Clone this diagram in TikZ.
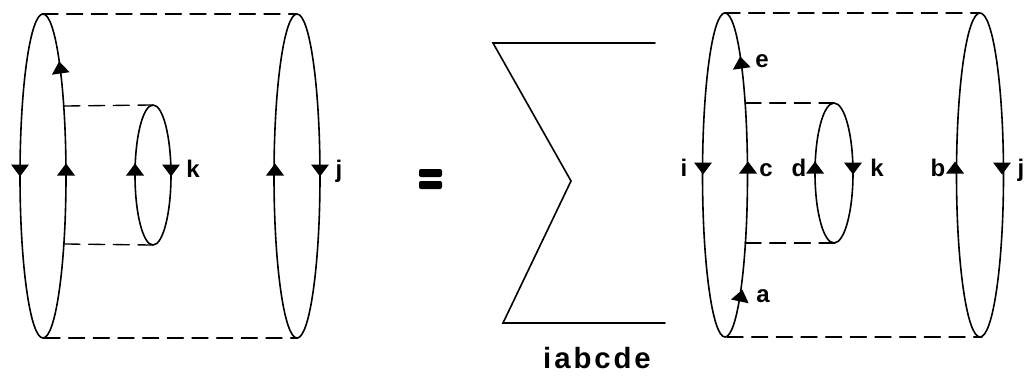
\documentclass[tikz,border=0pt]{standalone}
\usepackage{fontspec}
\setmainfont{Liberation Sans}

\tikzset{
  loopline/.style={line width=1.2pt},
  cylline/.style={line width=1pt,dash pattern=on 12pt off 6.5pt},
  lbl/.style={font=\fontsize{18}{18}\selectfont\bfseries,inner sep=0pt,anchor=base},
  uptri/.pic={\fill (-9,5.5) -- (9,5.5) -- (0,-6.5) -- cycle;},
  downtri/.pic={\fill (-9,-5.5) -- (9,-5.5) -- (0,6.5) -- cycle;}
}

\begin{document}
\begin{tikzpicture}[x=0.75pt,y=-0.75pt,line cap=round,line join=round]
        \useasboundingbox (0,0) rectangle (1035,378);

        % Cilindro de la izquierda
        \draw[loopline] (43,176) ellipse [x radius=23,y radius=162];
        \draw[loopline] (297,176) ellipse [x radius=23,y radius=162];
        \draw[loopline] (153,175) ellipse [x radius=18,y radius=70];

        \coordinate (Atop) at (42,14);
        \coordinate (Abot) at (44,338);
        \coordinate (Btop) at (296,14);
        \coordinate (Bbot) at (298,338);
        \coordinate (Ain1) at (64,106);
        \coordinate (Ain2) at (64,244);
        \coordinate (Ctop) at (153,105);
        \coordinate (Cbot) at (153,245);

        \draw[cylline] (Atop) -- (Btop);
        \draw[cylline] (Abot) -- (Bbot);
        \draw[cylline] (Ain1) -- (Ctop);
        \draw[cylline] (Ain2) -- (Cbot);

        % Flechas y etiquetas
        \pic at (20,170) {downtri};
        \pic[rotate=8] at (60,68) {uptri};
        \pic at (66,170) {uptri};
        \pic at (135,170) {uptri};
        \pic at (171,170) {downtri};
        \pic at (275,170) {uptri};
        \pic at (320,170) {downtri};

        \node[lbl] (kA) at (193,177) {k};
        \node[lbl] (jA) at (339,177) {j};

        %----------------------------------------------------------
        % Igualdad y sumatoria
        \fill[rounded corners=1.5pt] (419,169) rectangle (442,177);
        \fill[rounded corners=1.5pt] (419,181) rectangle (442,189);

        \draw[line width=1.2pt,line join=miter]
            (655,43) -- (493,43) -- (571,181) -- (503,323) -- (665,323);
        \node[lbl,font=\fontsize{22}{22}\selectfont\bfseries\addfontfeature{LetterSpace=10}]
            (sumidx) at (597,368) {iabcde};

        %----------------------------------------------------------
        % Cilindro de la derecha
        \draw[loopline] (725,175) ellipse [x radius=22.5,y radius=162];
        \draw[loopline] (980,175) ellipse [x radius=23.5,y radius=162];
        \draw[loopline] (834,173) ellipse [x radius=19,y radius=70];

        \coordinate (Dtop) at (724,13);
        \coordinate (Dbot) at (727,337);
        \coordinate (Etop) at (979,13);
        \coordinate (Ebot) at (982,337);
        \coordinate (Din1) at (745,103);
        \coordinate (Din2) at (745,243);
        \coordinate (Ftop) at (834,103);
        \coordinate (Fbot) at (835,243);

        \draw[cylline] (Dtop) -- (Etop);
        \draw[cylline] (Dbot) -- (Ebot);
        \draw[cylline] (Din1) -- (Ftop);
        \draw[cylline] (Din2) -- (Fbot);

        % Flechas y etiquetas
        \pic at (703,168) {downtri};
        \pic[rotate=8] at (741,63) {uptri};
        \pic at (748,168) {uptri};
        \pic[rotate=-12] at (741,296) {uptri};
        \pic at (815,168) {uptri};
        \pic at (853,168) {downtri};
        \pic at (955,168) {uptri};
        \pic at (1002,168) {downtri};

        \node[lbl] (iB) at (684,176) {i};
        \node[lbl] (eB) at (762,68) {e};
        \node[lbl] (cB) at (766,176) {c};
        \node[lbl] (aB) at (763,302) {a};
        \node[lbl] (dB) at (799,176) {d};
        \node[lbl] (kB) at (877,176) {k};
        \node[lbl] (bB) at (938,176) {b};
        \node[lbl] (jB) at (1021,176) {j};
\end{tikzpicture}
\end{document}
